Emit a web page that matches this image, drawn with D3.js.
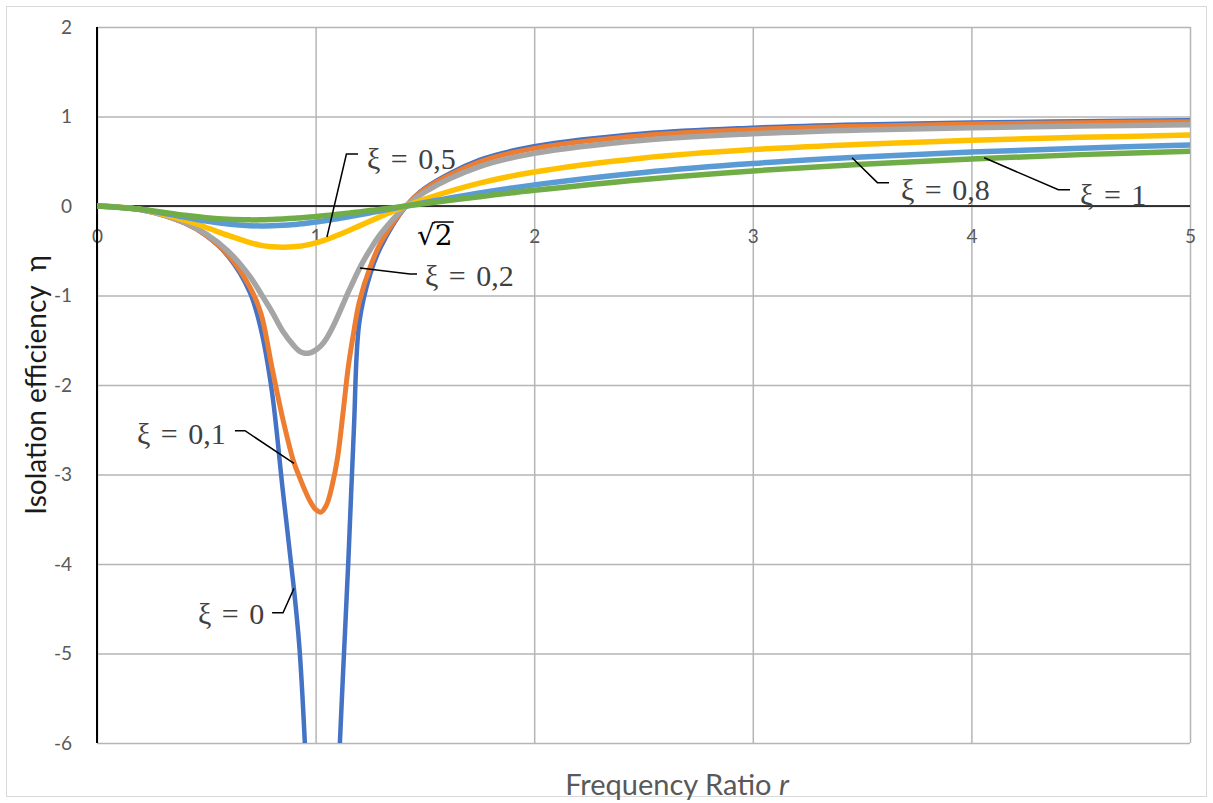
<!DOCTYPE html>
<html>
<head>
<meta charset="utf-8">
<script src="https://d3js.org/d3.v7.min.js"></script>
<style>
  body { margin: 0; background: #fff; }
</style>
</head>
<body>
<div id="chart"></div>
<script>
// frequency ratio r (shared by all the curves)
var ratio = [0, 0.2, 0.4, 0.5, 0.6, 0.7, 0.75, 0.8, 0.85, 0.9, 0.925, 0.95, 0.975, 1.0, 1.025, 1.05, 1.075, 1.1,
  1.125, 1.15, 1.175, 1.2, 1.25, 1.3, 1.414, 1.5, 1.75, 2, 2.5, 3, 3.5, 4, 4.5, 5];

// isolation efficiency for each damping ratio (null = off the chart)
var etaXi0 = [0, -0.042, -0.19, -0.333, -0.563, -0.97, -1.38, -2.07, -3.18, -4.26, -4.9, -5.96, -7.5, null, null, null, null, -6.6,
  -5.25, -3.95, -2.5, -1.3, -0.76, -0.449, 0, 0.2, 0.515, 0.667, 0.81, 0.875, 0.911, 0.933, 0.948, 0.958];
var etaXi01 = [0, -0.042, -0.189, -0.328, -0.547, -0.909, -1.2, -1.8, -2.38, -2.86, -3.02, -3.17, -3.3, -3.39, -3.42, -3.34, -3.13, -2.82,
  -2.32, -1.79, -1.4, -1.07, -0.68, -0.401, 0, 0.188, 0.494, 0.644, 0.788, 0.855, 0.892, 0.915, 0.93, 0.941];
var etaXi02 = [0, -0.041, -0.184, -0.314, -0.505, -0.79, -0.98, -1.18, -1.4, -1.56, -1.62, -1.645, -1.64, -1.61, -1.56, -1.48, -1.37, -1.24,
  -1.1, -0.96, -0.83, -0.7, -0.486, -0.305, 0, 0.159, 0.44, 0.588, 0.735, 0.807, 0.849, 0.875, 0.893, 0.907];
var etaXi05 = [0, -0.04, -0.158, -0.24, -0.329, -0.409, -0.44, -0.455, -0.46, -0.456, -0.449, -0.44, -0.428, -0.412, -0.395, -0.374, -0.352, -0.327,
  -0.302, -0.276, -0.249, -0.222, -0.168, -0.114, 0, 0.077, 0.255, 0.38, 0.537, 0.63, 0.691, 0.734, 0.767, 0.792];
var etaXi08 = [0, -0.038, -0.124, -0.168, -0.201, -0.22, -0.223, -0.222, -0.216, -0.207, -0.201, -0.195, -0.187, -0.179, -0.171, -0.162, -0.152, -0.142,
  -0.132, -0.121, -0.11, -0.099, -0.076, -0.053, 0, 0.039, 0.145, 0.236, 0.375, 0.475, 0.547, 0.603, 0.646, 0.681];
var etaXi1 = [0, -0.036, -0.104, -0.131, -0.149, -0.155, -0.154, -0.15, -0.145, -0.138, -0.133, -0.129, -0.124, -0.118, -0.112, -0.106, -0.1, -0.093,
  -0.087, -0.08, -0.073, -0.066, -0.051, -0.036, 0, 0.027, 0.104, 0.175, 0.297, 0.392, 0.466, 0.526, 0.574, 0.613];

var xTicks = [0, 1, 2, 3, 4, 5];
var yTicks = [2, 1, 0, -1, -2, -3, -4, -5, -6];

var seriesValues = [etaXi0, etaXi01, etaXi02, etaXi05, etaXi08, etaXi1];
var seriesColors = ["#4472C4", "#ED7D31", "#A5A5A5", "#FFC000", "#5B9BD5", "#70AD47"];
var seriesWidths = [4.5, 5, 5.5, 5.5, 5.5, 5.5];

// curve labels: text plus leader line, in data units
var curveLabels = [
  { text: "ξ = 0,5", at: [1.235, 0.41], leader: [[1.194, 0.581], [1.141, 0.581], [1.052, -0.346]] },
  { text: "ξ = 0,2", at: [1.5, -0.89], leader: [[1.464, -0.76], [1.432, -0.76], [1.203, -0.693]] },
  { text: "ξ = 0,1", at: [0.183, -2.66], leader: [[0.631, -2.511], [0.677, -2.511], [0.901, -2.875]] },
  { text: "ξ = 0", at: [0.462, -4.67], leader: [[0.801, -4.544], [0.851, -4.544], [0.901, -4.272]] },
  { text: "ξ = 0,8", at: [3.678, 0.067], leader: [[3.623, 0.261], [3.57, 0.261], [3.454, 0.539]] },
  { text: "ξ = 1", at: [4.497, 0.011], leader: [[4.451, 0.181], [4.398, 0.181], [4.059, 0.539]] }
];

var svgWidth = 1213;
var svgHeight = 803;

var margin = { top: 27, right: 23, bottom: 60, left: 97 };
var width = svgWidth - margin.left - margin.right;
var height = svgHeight - margin.top - margin.bottom;

var svg = d3.select("#chart")
  .append("svg")
  .attr("width", svgWidth)
  .attr("height", svgHeight);

// outer chart border
svg.append("rect")
  .attr("x", 6.5).attr("y", 6.5)
  .attr("width", svgWidth - 13).attr("height", svgHeight - 13)
  .attr("fill", "none")
  .attr("stroke", "#d9d9d9");

var chartGroup = svg.append("g")
  .attr("transform", `translate(${margin.left}, ${margin.top})`);

var xScale = d3.scaleLinear().domain([0, 5]).range([0, width]);
var yScale = d3.scaleLinear().domain([-6, 2]).range([height, 0]);

// gridlines
chartGroup.append("g")
  .call(d3.axisLeft(yScale).tickValues(yTicks).tickSize(-width).tickFormat(""))
  .call(g => g.select(".domain").remove())
  .selectAll("line")
  .attr("stroke", "#b5b5b5")
  .attr("stroke-width", 1.5);

chartGroup.append("g")
  .attr("transform", `translate(0, ${height})`)
  .call(d3.axisBottom(xScale).tickValues(xTicks).tickSize(-height).tickFormat(""))
  .call(g => g.select(".domain").remove())
  .selectAll("line")
  .attr("stroke", "#b5b5b5")
  .attr("stroke-width", 1.5);

// y tick labels (plain hyphen for the minus sign, as in the original)
var leftAxis = chartGroup.append("g")
  .call(d3.axisLeft(yScale).tickValues(yTicks).tickSize(0).tickPadding(25).tickFormat(d => String(d)))
  .call(g => g.select(".domain").remove());
leftAxis.selectAll("text")
  .attr("font-family", "Lato, 'Open Sans', sans-serif")
  .attr("font-size", "19px")
  .attr("fill", "#595959");

// x tick labels sit under the zero line
var bottomAxis = chartGroup.append("g")
  .attr("transform", `translate(0, ${yScale(0)})`)
  .call(d3.axisBottom(xScale).tickValues(xTicks).tickSize(0).tickPadding(24).tickFormat(d => String(d)))
  .call(g => g.select(".domain").remove());
bottomAxis.selectAll("text")
  .attr("font-family", "Lato, 'Open Sans', sans-serif")
  .attr("font-size", "19px")
  .attr("fill", "#595959");

// axis lines
chartGroup.append("line")
  .attr("x1", 0).attr("x2", width)
  .attr("y1", yScale(0)).attr("y2", yScale(0))
  .attr("stroke", "#000")
  .attr("stroke-width", 1.5);

chartGroup.append("line")
  .attr("x1", 0).attr("x2", 0)
  .attr("y1", 0).attr("y2", height)
  .attr("stroke", "#000")
  .attr("stroke-width", 2);

// curves
chartGroup.append("clipPath")
  .attr("id", "plot-clip")
  .append("rect")
  .attr("width", width)
  .attr("height", height);

var line = d3.line()
  .defined(d => d[1] != null)
  .x(d => xScale(d[0]))
  .y(d => yScale(d[1]))
  .curve(d3.curveCatmullRom.alpha(0.5));

var curves = chartGroup.append("g").attr("clip-path", "url(#plot-clip)");

seriesValues.forEach(function(values, i) {
  var points = ratio.map((r, j) => [r, values[j]]);
  curves.append("path")
    .attr("d", line(points))
    .attr("fill", "none")
    .attr("stroke", seriesColors[i])
    .attr("stroke-width", seriesWidths[i])
    .attr("stroke-linejoin", "round")
    .attr("stroke-linecap", "round");
});

// curve labels with leader lines
var leader = d3.line()
  .x(d => xScale(d[0]))
  .y(d => yScale(d[1]));

curveLabels.forEach(function(lab) {
  chartGroup.append("path")
    .attr("d", leader(lab.leader))
    .attr("fill", "none")
    .attr("stroke", "#000")
    .attr("stroke-width", 1.5);

  chartGroup.append("text")
    .attr("x", xScale(lab.at[0]))
    .attr("y", yScale(lab.at[1]))
    .attr("font-family", "'Liberation Serif', 'Times New Roman', serif")
    .attr("font-size", "30px")
    .attr("word-spacing", "3px")
    .attr("fill", "#404040")
    .text(lab.text);
});

// sqrt(2) mark at the crossing point
var rootText = chartGroup.append("text")
  .attr("x", xScale(1.464))
  .attr("y", yScale(-0.436))
  .attr("font-family", "'DejaVu Serif', serif")
  .attr("font-size", "28px")
  .attr("fill", "#000");
rootText.append("tspan").text("√");
var rootTwo = rootText.append("tspan").text("2");
var bb = rootTwo.node().getBBox();
chartGroup.append("line")
  .attr("x1", bb.x - 1).attr("x2", bb.x + bb.width + 1)
  .attr("y1", bb.y + 3).attr("y2", bb.y + 3)
  .attr("stroke", "#000")
  .attr("stroke-width", 1.5);

// axis titles
chartGroup.append("text")
  .attr("transform", `translate(${35 - margin.left}, ${height / 2})rotate(-90)`)
  .attr("text-anchor", "middle")
  .attr("dominant-baseline", "central")
  .attr("font-family", "Lato, 'Open Sans', sans-serif")
  .attr("font-size", "28px")
  .attr("fill", "#1a1a1a")
  .attr("xml:space", "preserve")
  .text("Isolation efficiency  η");

var xTitle = chartGroup.append("text")
  .attr("transform", `translate(${677 - margin.left}, ${795 - margin.top})`)
  .attr("text-anchor", "middle")
  .attr("font-family", "Lato, 'Open Sans', sans-serif")
  .attr("font-size", "29px")
  .attr("fill", "#595959");
xTitle.append("tspan").text("Frequency Ratio ");
xTitle.append("tspan").attr("font-style", "italic").text("r");
</script>
</body>
</html>
